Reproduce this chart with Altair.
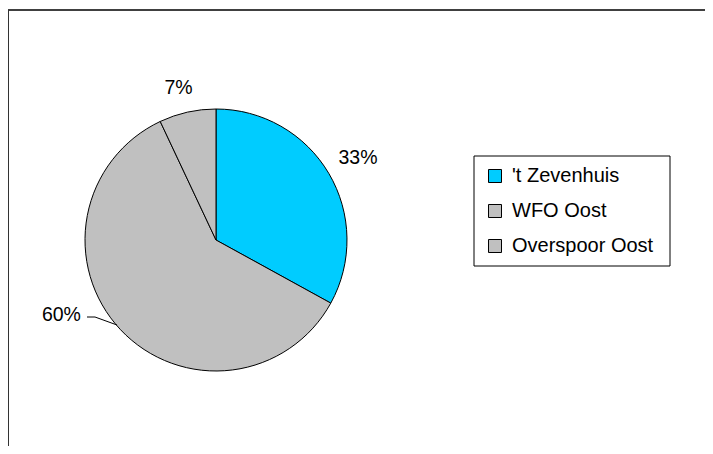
import altair as alt
import pandas as pd

categories = ["'t Zevenhuis", "WFO Oost", "Overspoor Oost"]
values = [33, 60, 7]
labels = ["33%", "60%", "7%"]
colors = ["#00CCFF", "#C0C0C0", "#C0C0C0"]

df = pd.DataFrame({"idx": [0, 1, 2], "category": categories, "value": values, "label": labels})
total = sum(values)

FONT = "Liberation Sans"
CX, CY, R = 208, 232, 131

theta_scale = alt.Scale(domain=[0, total])
color_enc = alt.Color(
    "category:N",
    sort=categories,
    scale=alt.Scale(domain=categories, range=colors),
    legend=alt.Legend(
        title=None,
        orient="none",
        legendX=477,
        legendY=158,
        symbolType="square",
        symbolSize=169,
        symbolStrokeColor="black",
        symbolStrokeWidth=1,
        symbolOpacity=1,
        labelFont=FONT,
        labelFontSize=20,
        labelColor="black",
        labelOffset=7,
        rowPadding=15,
        padding=0,
        labelLimit=300,
    ),
)

base = alt.Chart(df)

pie = base.mark_arc(radius=R, stroke="black", strokeWidth=1).encode(
    theta=alt.Theta("value:Q", stack=True, scale=theta_scale),
    color=color_enc,
    order=alt.Order("idx:Q"),
    x=alt.value(CX),
    y=alt.value(CY),
)

lab_base = base.transform_window(
    cum="sum(value)", sort=[{"field": "idx"}]
).transform_calculate(mid="datum.cum - datum.value / 2")


def label_layer(cat, radius, dx=0, dy=0):
    return lab_base.transform_filter(alt.datum.category == cat).mark_text(
        radius=radius, dx=dx, dy=dy, font=FONT, fontSize=19.5, color="black"
    ).encode(
        theta=alt.Theta("mid:Q", stack=None, scale=theta_scale),
        text="label:N",
        x=alt.value(CX),
        y=alt.value(CY),
    )


t1 = label_layer("'t Zevenhuis", 165, dy=2)
t2 = label_layer("WFO Oost", 175, dx=-27, dy=-45)
t3 = label_layer("Overspoor Oost", 158, dx=-3, dy=2)

one = pd.DataFrame({"a": [0]})


def rule(x, y, x2, y2, w=1.0, c="black"):
    return alt.Chart(one).mark_rule(color=c, strokeWidth=w).encode(
        x=alt.value(x), y=alt.value(y), x2=alt.value(x2), y2=alt.value(y2)
    )


leader1 = rule(79, 309, 87, 309)
leader2 = rule(87, 309, 109, 317)

top_border = rule(-1, 2, 710, 2, w=1.5)
left_border = rule(0, 2, 0, 450, w=2, c="#333333")

legend_box = alt.Chart(one).mark_rect(fill="white", stroke="black", strokeWidth=1).encode(
    x=alt.value(466), x2=alt.value(662), y=alt.value(148), y2=alt.value(258)
)

chart = alt.layer(
    top_border, left_border, legend_box, pie, t1, t2, t3, leader1, leader2
).properties(
    width=697,
    height=438,
    autosize=alt.AutoSizeParams(type="none"),
    padding=0,
    background="white",
).configure_view(stroke=None)

chart.save("out.html", embed_options={"renderer": "svg", "actions": False})
